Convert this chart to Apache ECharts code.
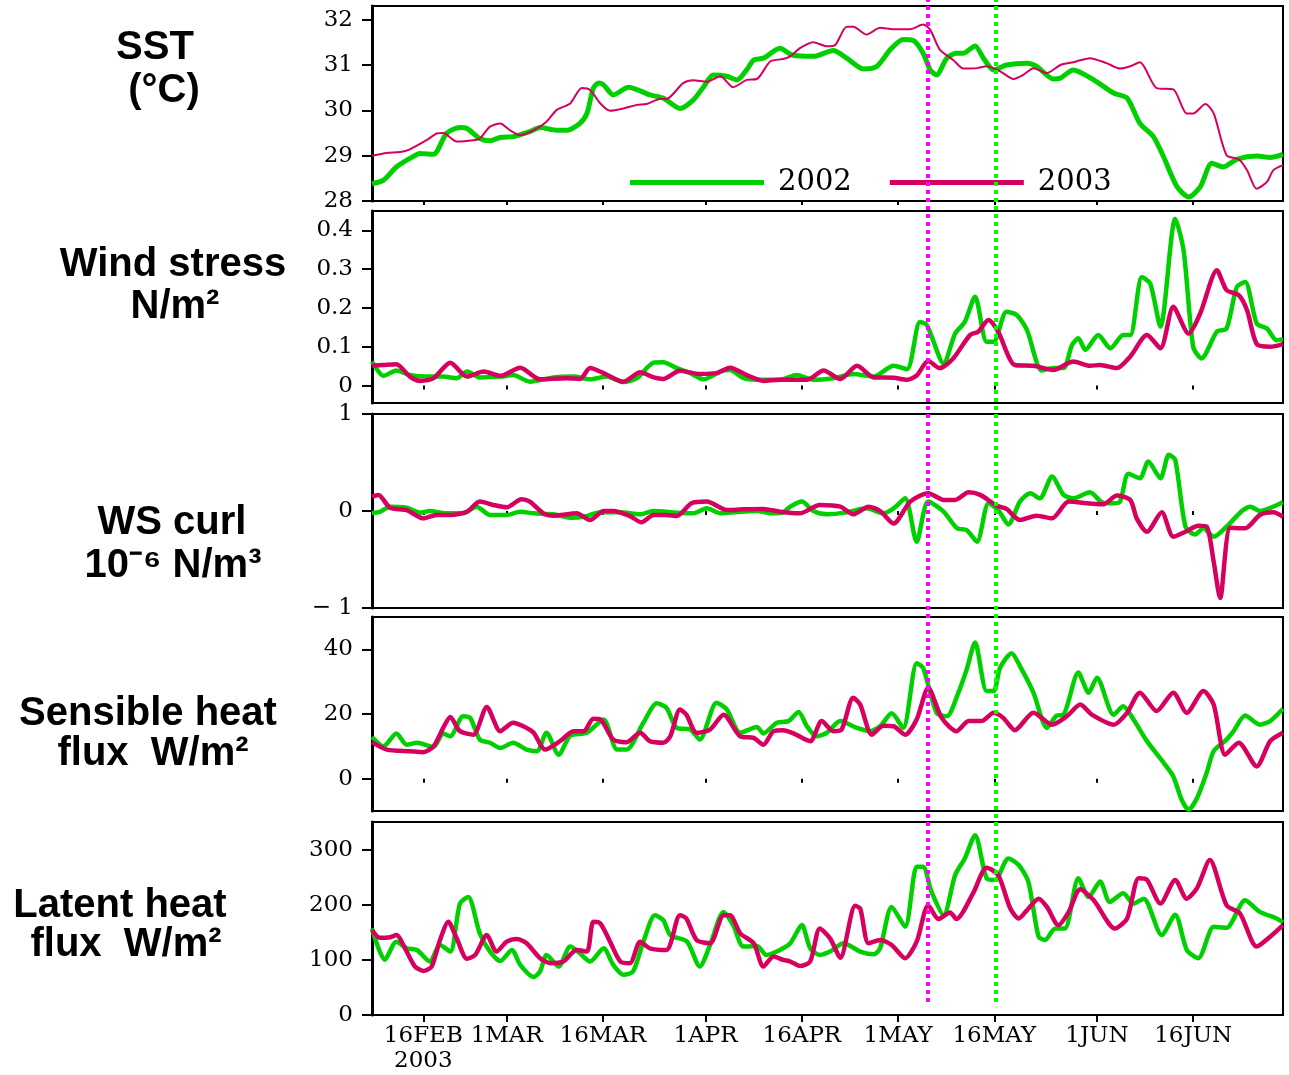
<!DOCTYPE html>
<html>
<head>
<meta charset="utf-8">
<title>SST, wind and heat flux 2002 / 2003</title>
<script src="https://cdn.jsdelivr.net/npm/echarts@6/dist/echarts.min.js"></script>
<style>
  html, body { margin: 0; background: #fff; }
  #chart { width: 1289px; height: 1075px; }
</style>
</head>
<body>
<div id="chart"></div>
<script>
// x values are day of year 2003 (8 Feb = 39 ... 30 Jun = 181)
const dayMin = 39;
const dayMax = 181;
const dateTicks = [47, 60, 75, 91, 106, 121, 136, 152, 167];
const dateNames = ['16FEB\n2003', '1MAR', '16MAR', '1APR', '16APR', '1MAY', '16MAY', '1JUN', '16JUN'];
// magenta and green dotted markers
const eventDays = [125.7, 136.2];

const yearNames = ['2002', '2003'];

const sst2002 = [[39,28.38],[40.8,28.46],[42.8,28.75],[44.9,28.94],[46.5,29.05],[48.6,29.03],[50.6,29.49],[52.7,29.62],[53.8,29.6],[55.8,29.38],[57.4,29.33],[59,29.4],[61,29.42],[63.6,29.53],[65.2,29.62],[67.8,29.56],[69.4,29.56],[71.4,29.71],[72.5,29.93],[73.5,30.49],[74.3,30.6],[75.1,30.56],[76.6,30.34],[79,30.51],[82.3,30.34],[84.4,30.27],[87,30.04],[89.1,30.23],[90.7,30.52],[92.2,30.78],[94.3,30.75],[95.9,30.67],[97.4,30.89],[98.5,31.11],[100,31.15],[102.6,31.37],[104.5,31.22],[107.8,31.19],[110.9,31.32],[113,31.15],[115.6,30.91],[117.7,30.97],[119.8,31.34],[121.8,31.56],[123.4,31.54],[124.9,31.26],[126,30.89],[127,30.78],[128.6,31.15],[130.1,31.26],[131.2,31.26],[133,31.42],[134.3,31.15],[135.9,30.89],[137.9,31.0],[141.1,31.04],[142.6,30.97],[145.2,30.69],[146.3,30.71],[148.3,30.89],[151.5,30.67],[154.6,30.38],[156.7,30.27],[158.7,29.71],[160.8,29.42],[162.4,28.97],[164.5,28.31],[166.3,28.09],[168.1,28.31],[169.9,28.83],[171.7,28.75],[173.8,28.92],[176.9,28.99],[179,28.96],[181,29.03]];
const sst2003 = [[39,29.0],[41.3,29.06],[43.4,29.08],[44.9,29.14],[47.5,29.34],[49.1,29.49],[50.1,29.5],[52.2,29.31],[54.8,29.34],[55.8,29.38],[57.4,29.64],[59,29.71],[60.5,29.56],[62.1,29.45],[64.2,29.56],[66.2,29.75],[67.8,30.01],[69.9,30.15],[71.7,30.49],[73,30.45],[74.6,30.15],[76.1,29.99],[78.2,30.04],[80.3,30.12],[81.8,30.14],[83.9,30.25],[84.9,30.25],[87.5,30.6],[89.1,30.66],[91.2,30.63],[93.3,30.75],[95.3,30.51],[97.4,30.67],[99,30.69],[101.1,31.08],[103.1,31.13],[104.2,31.19],[105.7,31.37],[107.8,31.5],[109.9,31.41],[111.2,31.44],[113,31.84],[114,31.84],[116.1,31.67],[118.2,31.82],[120.3,31.79],[122.9,31.79],[124.9,31.89],[126,31.78],[127.5,31.34],[129.6,31.11],[131.2,30.92],[133.3,30.93],[134.8,30.97],[136.9,30.86],[139,30.69],[140.5,30.78],[142.1,30.93],[144.2,30.82],[146.3,31.0],[148.3,31.06],[150.9,31.15],[153.5,31.04],[155.6,30.92],[157.2,30.97],[158.7,31.06],[161.3,30.49],[163.9,30.46],[166,29.93],[167,29.93],[168.9,30.14],[170.2,29.93],[172.2,29.01],[174.1,28.92],[175.4,28.68],[176.9,28.27],[178.5,28.42],[179.5,28.68],[181,28.79]];

const tau2002 = [[39,0.062],[40.8,0.025],[42.8,0.039],[44.9,0.027],[47.5,0.023],[50.1,0.023],[52.2,0.019],[53.8,0.036],[55.8,0.021],[59,0.023],[61,0.027],[63.6,0.01],[67.3,0.021],[70.4,0.023],[73,0.016],[75.6,0.023],[78.2,0.009],[80.3,0.019],[82.9,0.059],[84.4,0.06],[86.5,0.045],[88.6,0.032],[90.7,0.016],[93.3,0.036],[94.8,0.04],[96.9,0.019],[99,0.015],[102.6,0.015],[105.2,0.027],[107.8,0.015],[110.9,0.019],[114,0.03],[117.2,0.023],[120.3,0.051],[122.4,0.042],[124.4,0.164],[125.5,0.156],[128.1,0.057],[129.9,0.134],[131.4,0.164],[133,0.229],[134.8,0.113],[135.9,0.113],[137.9,0.19],[139.5,0.182],[141.1,0.143],[143.4,0.039],[145.2,0.045],[146.8,0.045],[148.1,0.104],[149.1,0.122],[150.2,0.092],[152.2,0.13],[154.1,0.096],[156.1,0.13],[157.2,0.13],[159,0.28],[160.3,0.263],[161.9,0.152],[164.2,0.43],[165.5,0.349],[167,0.1],[168.3,0.07],[170.7,0.139],[172.2,0.147],[173.8,0.254],[175.1,0.267],[176.9,0.16],[178.5,0.147],[180,0.117],[181,0.119]];
const tau2003 = [[39,0.051],[40.8,0.053],[42.8,0.055],[44.9,0.023],[46.5,0.012],[48.6,0.019],[51.2,0.059],[53.8,0.023],[56.4,0.036],[59,0.025],[62.1,0.046],[65.2,0.016],[69.4,0.019],[71.4,0.017],[73,0.045],[75.1,0.032],[78.2,0.01],[80.8,0.034],[82.9,0.021],[84.4,0.017],[87,0.038],[90.1,0.03],[92.7,0.032],[94.8,0.046],[97.4,0.027],[100,0.012],[102.6,0.015],[106.8,0.015],[109.4,0.039],[112,0.017],[114.6,0.051],[117.2,0.021],[120.3,0.02],[122.4,0.015],[123.9,0.026],[125.7,0.063],[127.5,0.045],[129.6,0.07],[132.2,0.13],[133.5,0.139],[135.1,0.169],[136.6,0.139],[139.2,0.053],[142.1,0.051],[145.2,0.04],[148.3,0.062],[150.9,0.051],[152.5,0.053],[155.1,0.045],[157.2,0.075],[159.8,0.13],[161.9,0.096],[163.9,0.203],[166.3,0.134],[168.1,0.186],[170.7,0.297],[172.2,0.246],[174.1,0.233],[175.4,0.194],[176.9,0.107],[179,0.1],[181,0.107]];

const curl2002 = [[39,-0.02],[40.2,-0.01],[41.8,0.045],[44.4,0.034],[46.5,-0.017],[48,0],[50.6,-0.024],[53.2,-0.024],[55.3,0.045],[57.4,-0.04],[60,-0.04],[62.1,-0.007],[64.2,-0.024],[67.3,-0.034],[69.9,-0.069],[72,-0.059],[74.6,-0.014],[77.7,-0.014],[80.8,-0.034],[82.9,0],[86.5,-0.017],[89.1,-0.024],[91.2,0.028],[93.3,-0.024],[96.4,-0.007],[99,0],[101.6,-0.024],[103.1,-0.014],[104.2,0.045],[106,0.097],[107.8,0],[109.9,-0.034],[113,-0.014],[116.1,0.028],[118.7,-0.024],[120.3,0.028],[122.1,0.131],[123.9,-0.317],[125.7,0.097],[128.1,-0.007],[130.2,-0.179],[131.7,-0.197],[133.3,-0.317],[135.1,0.079],[136.6,0.01],[138.2,-0.138],[140,0.097],[141.6,0.183],[143.1,0.131],[145,0.355],[146.8,0.166],[148.3,0.131],[150.9,0.193],[152.8,0.09],[154.6,0.079],[155.6,0.097],[156.9,0.383],[158.7,0.338],[160,0.51],[161.9,0.338],[163.2,0.579],[164.2,0.528],[165.8,-0.162],[167.3,-0.241],[168.6,-0.179],[170.2,-0.266],[172.2,-0.162],[174.6,0],[175.9,0.045],[177.4,0],[179.5,0.045],[181,0.09]];
const curl2003 = [[39,0.148],[40,0.166],[41.8,0.034],[44.4,0.01],[47,-0.076],[49.1,-0.041],[51.2,-0.041],[53.8,-0.007],[55.8,0.097],[57.9,0.062],[60,0.038],[62.3,0.121],[63.6,0.097],[65.7,-0.024],[67.3,-0.048],[70.9,-0.024],[73,-0.093],[75.1,0],[76.6,0],[79.2,-0.052],[81,-0.117],[82.9,-0.041],[84.9,-0.041],[86.5,-0.052],[88.8,0.079],[91.2,0.097],[94.3,0.01],[96.9,0.017],[100,0.021],[102.6,-0.007],[105.7,-0.024],[108.8,0.062],[112,0.045],[114,-0.034],[116.4,0.045],[118.2,0],[120.3,-0.128],[122.9,0.097],[125.7,0.183],[128.1,0.114],[129.9,0.114],[132,0.193],[133.8,0.166],[136.4,0.055],[137.9,0.021],[140,-0.093],[142.6,-0.048],[145,-0.076],[147.6,0.097],[150.4,0.079],[153,0.069],[155.1,0.159],[157.2,0.114],[158.2,-0.076],[159.8,-0.214],[162.1,-0.014],[163.9,-0.266],[165.8,-0.214],[167.8,-0.152],[169.1,-0.162],[170.2,-0.524],[171.2,-0.897],[172.8,-0.172],[175.1,-0.179],[177.4,-0.041],[179.5,-0.014],[181,-0.059]];

const sens2002 = [[39,12.9],[40.8,10],[42.8,14],[44.4,10.5],[46,11.1],[48.6,9.8],[50.1,14],[51.2,13.1],[53.2,19.3],[54.3,18.8],[55.8,12.1],[57.4,11.1],[59,9.5],[61,11.1],[63.1,9],[64.7,8.5],[66.2,14.2],[68.1,7.4],[69.9,13.3],[72.5,14.2],[75.1,18.3],[77.2,9],[78.7,9],[81.3,17.3],[83.4,23.3],[84.9,21.9],[86.5,15.7],[88.6,15.2],[90.1,12.1],[92.7,23.5],[94.3,21.4],[96.4,14.2],[99,16],[100,14],[102.1,17.3],[103.9,17.8],[105.5,20.6],[106.8,16.2],[108.3,13.1],[109.9,14.2],[112,17.8],[114.6,15.7],[116.6,14.7],[118.2,16.2],[120,20.2],[121.8,15.7],[123.9,35.7],[124.9,34.3],[127,20.4],[128.6,19.3],[130.4,26.6],[131.7,33.8],[133,42.1],[134.8,27.1],[135.9,27.1],[136.9,34.3],[138.7,38.8],[140,34.8],[142.1,26.6],[144.2,15.7],[145.7,19.5],[146.8,19.8],[149.1,32.8],[150.7,26.6],[152,31.2],[154.6,19.8],[156.1,22.4],[157.7,18.3],[159.8,11.6],[162.4,4.9],[163.9,0.7],[165.2,-6.5],[166.3,-9.6],[167.6,-6],[169.1,1.8],[170.2,8.5],[172.2,12.1],[173.3,14.7],[175.1,19.5],[177.4,16.7],[179,17.8],[181,21.6]];
const sens2003 = [[39,11.3],[41.3,9],[44.9,8.5],[47,8.2],[48.6,10],[50.1,15.7],[51.2,19.1],[52.7,14.7],[54.8,13.6],[56.9,22.2],[59,14.7],[61,17.3],[63.1,15.7],[64.2,14.2],[66,9],[68.3,11.6],[70.4,14.7],[72,14.7],[73.5,18.5],[74.6,18.3],[76.6,12.1],[78.7,11.3],[80.8,14.2],[82.3,11.6],[84.4,11.1],[85.5,13.1],[87,21.4],[88,19.8],[89.6,14.2],[91.7,15.2],[93.8,19.8],[96.4,13.1],[98.5,12.6],[100,10.5],[101.6,14.7],[103.1,15],[104.7,14],[107.3,11.6],[109.1,17.8],[110.9,14.7],[112.2,15.2],[114,25],[115.1,22.9],[116.9,13.6],[118.7,16.4],[120.3,16.2],[122.1,13.6],[123.9,18.3],[125.7,28.1],[127.8,18.8],[130.1,14.7],[132,17.8],[134,17.8],[135.9,20.4],[137.4,18.8],[139.2,15],[142.1,20.4],[145,16.7],[147.3,19.3],[149.4,22.9],[151.2,19.8],[154.6,16.7],[156.7,20.4],[158.7,26.6],[161.3,20.9],[163.9,26.6],[166,20.4],[168.6,27.1],[170.2,22.9],[172,7.4],[174.1,11.1],[176.9,3.8],[179,11.6],[181,14.2]];

const lat2002 = [[39,157],[41,100],[42.8,133],[44.4,121],[46,118],[48,97],[49.6,127],[51.2,115],[52.7,202],[54,214],[55.8,148],[57.4,115],[59,98],[60.8,118],[62.1,91],[64.2,69],[65.2,79],[66.2,109],[68.1,88],[69.9,124],[71.4,112],[73,97],[75.1,121],[76.6,91],[78.2,73],[79.7,79],[81.3,133],[83.1,181],[84.4,172],[85.5,145],[88.1,133],[90.1,88],[91.7,127],[93.8,187],[95.3,163],[96.9,124],[99,125],[100.5,109],[102.6,118],[104.2,130],[106,163],[107.3,121],[108.8,109],[110.4,115],[112.5,130],[115.1,115],[117.2,110],[118.2,121],[120,196],[122.1,160],[123.9,269],[124.9,269],[126.2,224],[128.1,181],[129.9,254],[131.4,284],[133,326],[134.8,248],[136.1,245],[138.2,284],[139.8,272],[141.3,242],[142.9,142],[143.9,136],[145.5,157],[147,157],[149.1,248],[150.7,214],[152.5,242],[154,205],[156.1,221],[157.7,202],[159.3,211],[162.1,145],[164.2,182],[166,118],[167.8,103],[170.2,160],[172.2,158],[175.1,208],[177.4,187],[180,175],[181,168]];
const lat2003 = [[39,154],[40.2,140],[41.8,141],[42.8,145],[44.4,115],[45.7,88],[47,80],[48.3,88],[49.6,136],[50.9,169],[52.2,139],[53.8,102],[55.1,109],[56.9,145],[58.4,115],[60,133],[61.6,138],[63.1,130],[65.2,103],[66.8,94],[68.8,97],[70.9,118],[72.5,115],[73.5,169],[74.6,166],[76.1,133],[77.7,97],[79.2,94],[80.8,133],[82.3,121],[84.9,118],[87,181],[88,175],[89.6,136],[91.7,130],[93.8,181],[94.8,181],[96.4,148],[98.5,130],[100,88],[101.6,106],[103.1,100],[104.2,97],[105.7,89],[107.3,97],[108.8,157],[110.4,139],[112,104],[114.3,198],[115.1,193],[116.4,130],[118.2,136],[120,127],[122.1,103],[123.9,133],[125.7,199],[127.3,174],[129.1,186],[130.1,174],[132.7,221],[134.8,267],[136.6,254],[138.5,193],[139.8,175],[141.1,190],[142.9,211],[144.2,196],[146,163],[147.6,187],[149.4,228],[151.5,208],[154.8,157],[156.7,175],[158.5,248],[159.8,245],[161.9,202],[164.2,245],[166,211],[167.6,230],[169.6,281],[172.2,199],[174.3,184],[176.9,124],[179,142],[181,163]];

// y tick labels per panel and the axis extent
const yTicks = [
  [28, 29, 30, 31, 32],
  [0, 0.1, 0.2, 0.3, 0.4],
  [-1, 0, 1],
  [0, 20, 40],
  [0, 100, 200, 300]
];
const yRange = [[28, 32.3], [-0.045, 0.45], [-1, 1], [-10, 50], [0, 350]];

const panelSeries = [
  [sst2002, sst2003],
  [tau2002, tau2003],
  [curl2002, curl2003],
  [sens2002, sens2003],
  [lat2002, lat2003]
];

const titleLines = ['SST', '(°C)', 'Wind stress', 'N/m²', 'WS curl', '10⁻⁶ N/m³',
  'Sensible heat', 'flux  W/m²', 'Latent heat', 'flux  W/m²'];

// layout
const gridTops = [6, 211, 414, 617, 822];
const gridHeights = [195, 192, 194, 194, 193];
const titlePos = [[155, 48], [164, 91], [173, 265], [175, 307], [172, 523], [173, 566],
  [148, 714], [153, 754], [120, 906], [126, 945]];
const colors = ['#00d000', '#d6005f'];
const numFont = 'DejaVu Serif';

function yLabel(panel, v) {
  if (panel === 1) return v === 0 ? '0' : v.toFixed(1);
  if (panel === 2 && v < 0) return '\u2212 1';
  return String(v);
}

const grid = [];
const xAxis = [];
const yAxis = [];
const series = [];

for (let i = 0; i < 5; i++) {
  grid.push({
    left: 372, width: 911, top: gridTops[i], height: gridHeights[i],
    show: true, borderColor: '#000', borderWidth: 2
  });
  xAxis.push({
    type: 'value', gridIndex: i, min: dayMin, max: dayMax,
    axisLine: { show: false },
    splitLine: { show: false },
    axisTick: {
      show: true, customValues: dateTicks, length: i === 4 ? 7 : 4,
      lineStyle: { color: '#000', width: 2 }
    },
    axisLabel: {
      show: i === 4, customValues: dateTicks,
      formatter: v => dateNames[dateTicks.indexOf(v)],
      fontFamily: numFont, fontSize: 23, color: '#000', margin: 9, lineHeight: 25
    }
  });
  yAxis.push({
    type: 'value', gridIndex: i, min: yRange[i][0], max: yRange[i][1],
    axisLine: { show: true, lineStyle: { color: '#000', width: 3 } },
    splitLine: { show: false },
    axisTick: { show: true, customValues: yTicks[i], length: 10, lineStyle: { color: '#000', width: 2 } },
    axisLabel: {
      customValues: yTicks[i],
      formatter: v => yLabel(i, v),
      fontFamily: numFont, fontSize: 23, color: '#000', margin: 19
    }
  });
  panelSeries[i].forEach((data, k) => {
    series.push({
      name: yearNames[k],
      type: 'line',
      xAxisIndex: i, yAxisIndex: i,
      data: data,
      symbol: 'none',
      smooth: 0.25,
      lineStyle: { color: colors[k], width: (i === 0 && k === 1) ? 2 : (i === 0 ? 5 : 4.5), join: 'round' },
      itemStyle: { color: colors[k] },
      z: 2 + k
    });
  });
}

// overlay grid spanning the panels for the dotted marker lines
grid.push({ left: 372, width: 911, top: 0, height: 1002, show: false });
xAxis.push({ type: 'value', gridIndex: 5, min: dayMin, max: dayMax, show: false });
yAxis.push({ type: 'value', gridIndex: 5, min: 0, max: 1, show: false });
series.push({
  type: 'line', xAxisIndex: 5, yAxisIndex: 5, data: [], silent: true, z: 10,
  markLine: {
    symbol: 'none', silent: true, label: { show: false },
    data: [
      { xAxis: eventDays[0], lineStyle: { color: '#ff00ff', type: [4, 4], width: 4 } },
      { xAxis: eventDays[1], lineStyle: { color: '#00ff00', type: [4, 4], width: 4 } }
    ]
  }
});

const option = {
  animation: false,
  backgroundColor: '#fff',
  grid: grid,
  xAxis: xAxis,
  yAxis: yAxis,
  legend: {
    data: yearNames,
    left: 625, top: 163,
    icon: 'rect',
    itemWidth: 134, itemHeight: 5, itemGap: 38,
    selectedMode: false,
    textStyle: { fontFamily: numFont, fontSize: 29, color: '#000', padding: [0, 0, 0, 9] }
  },
  graphic: titleLines.map((t, j) => ({
    type: 'text',
    x: titlePos[j][0], y: titlePos[j][1],
    style: {
      text: t,
      font: 'bold 40px "Liberation Sans", Arial, sans-serif',
      fill: '#000',
      textAlign: 'center', textVerticalAlign: 'middle',
      align: 'center', verticalAlign: 'middle'
    }
  })),
  series: series
};

const myChart = echarts.init(document.getElementById('chart'));
myChart.setOption(option);
</script>
</body>
</html>
